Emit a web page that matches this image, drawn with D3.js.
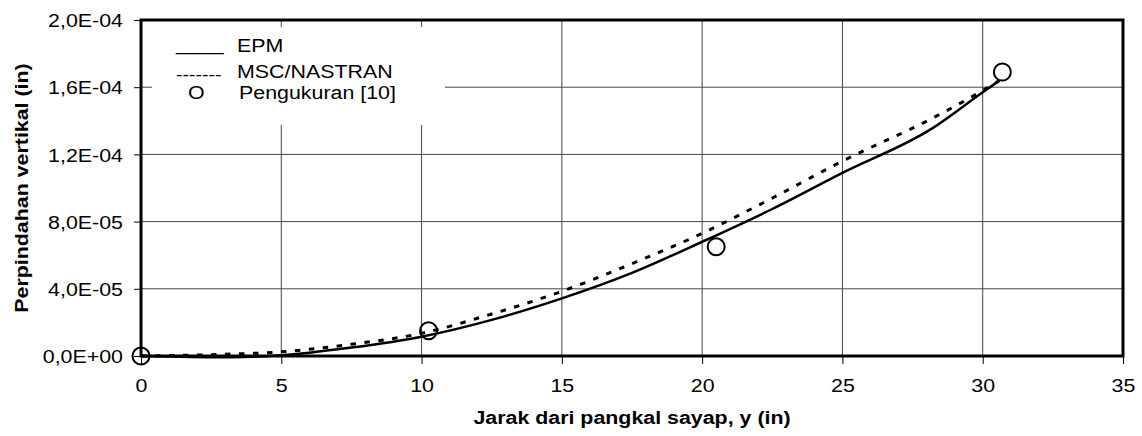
<html>
<head>
<meta charset="utf-8">
<script src="https://d3js.org/d3.v7.min.js"></script>
<style>
  body { margin: 0; background: #fff; }
  text { font-family: "Liberation Sans", Arial, sans-serif; fill: #000; }
</style>
</head>
<body>
<div id="chart"></div>
<script>
// x in inches, y in units of 1e-5 in
const epmX = [0, 1, 2.5, 4, 5, 6, 7.5, 10, 12.5, 15, 17.5, 20, 22.5, 25, 28.2, 30, 30.6]
const epmY = [0, -0.03, -0.07, -0.04, 0.05, 0.2, 0.5, 1.15, 2.15, 3.43, 4.95, 6.8, 8.75, 10.9, 13.55, 15.7, 16.4]
const nasX = [0, 2.5, 5, 7.5, 10, 12.5, 15, 17.5, 20, 22.5, 25, 28.2, 30, 30.6]
const nasY = [0, 0.08, 0.25, 0.7, 1.35, 2.5, 3.85, 5.5, 7.3, 9.4, 11.6, 14.15, 15.8, 16.4]
const measX = [0, 10.25, 20.5, 30.7]
const measY = [0, 1.5, 6.5, 16.9]
const xTicks = [0, 5, 10, 15, 20, 25, 30, 35]
const yTicks = [0, 4e-5, 8e-5, 1.2e-4, 1.6e-4, 2e-4]
const legendLabels = ['EPM', 'MSC/NASTRAN', 'Pengukuran [10]']
const legendSymbols = ['____', '-------', 'O']

const W = 1142, H = 436
const FS = 18.6, SX = 1.15
const svg = d3.select('#chart').append('svg').attr('width', W).attr('height', H)

const x = d3.scaleLinear().domain([0, 35]).range([141, 1123])
const y = d3.scaleLinear().domain([0, 2e-4]).range([356, 20])

const fmt = v => {
  if (v === 0) return '0,0E+00'
  const [m, e] = v.toExponential(1).split('e')
  const n = +e
  return m.replace('.', ',') + 'E' + (n < 0 ? '-' : '+') + String(Math.abs(n)).padStart(2, '0')
}

// gridlines
svg.append('g').selectAll('line.h').data(yTicks.slice(1, -1)).join('line')
  .attr('x1', x(0)).attr('x2', x(35)).attr('y1', d => y(d)).attr('y2', d => y(d))
  .attr('stroke', '#444').attr('stroke-width', 1)
svg.append('g').selectAll('line.v').data(xTicks.slice(1, -1)).join('line')
  .attr('x1', d => x(d)).attr('x2', d => x(d)).attr('y1', y(0)).attr('y2', y(2e-4))
  .attr('stroke', '#444').attr('stroke-width', 1)

// legend (white box hides grid)
svg.append('rect').attr('x', 152).attr('y', 27).attr('width', 293).attr('height', 98).attr('fill', '#fff')
const leg = svg.append('g').style('font-size', FS + 'px')
const legY = [51.7, 78, 99]
const symY = [50, 80, 99]
const symX = [176, 176, 188]
legendLabels.forEach((t, i) => {
  leg.append('text').attr('transform', `translate(${i === 2 ? 239 : 237},${legY[i]}) scale(${SX},1)`).text(t)
  leg.append('text').attr('transform', `translate(${symX[i]},${symY[i]}) scale(${SX},1)`)
    .style('font-size', (i === 1 ? 17 : FS) + 'px').text(legendSymbols[i])
})

// axes
const yAxis = svg.append('g').attr('transform', `translate(${x(0)},0)`)
  .call(d3.axisLeft(y).tickValues(yTicks).tickSize(7).tickFormat(fmt))
yAxis.select('.domain').remove()
yAxis.selectAll('.tick line').attr('stroke', '#000')
yAxis.selectAll('.tick text').attr('x', null).attr('dy', null)
  .attr('transform', `translate(-18,6.6) scale(${SX},1)`)
  .style('font-size', FS + 'px').attr('font-family', null)

const xAxis = svg.append('g').attr('transform', `translate(0,${y(0)})`)
  .call(d3.axisBottom(x).tickValues(xTicks).tickSize(8).tickFormat(d3.format('d')))
xAxis.select('.domain').remove()
xAxis.selectAll('.tick line').attr('stroke', '#000')
xAxis.selectAll('.tick text').attr('y', null).attr('dy', null)
  .attr('transform', `translate(0,36) scale(${SX},1)`)
  .style('font-size', FS + 'px').attr('font-family', null)

// series
const line = d3.line().x(d => x(d[0])).y(d => y(d[1] * 1e-5)).curve(d3.curveMonotoneX)
svg.append('path').datum(nasX.map((v, i) => [v, nasY[i]]))
  .attr('d', line).attr('fill', 'none').attr('stroke', '#000')
  .attr('stroke-width', 3).attr('stroke-dasharray', '5.5,8.5')
svg.append('path').datum(epmX.map((v, i) => [v, epmY[i]]))
  .attr('d', line).attr('fill', 'none').attr('stroke', '#000').attr('stroke-width', 2.5)
svg.append('g').selectAll('circle').data(measX.map((v, i) => [v, measY[i]])).join('circle')
  .attr('cx', d => x(d[0])).attr('cy', d => y(d[1] * 1e-5)).attr('r', 8.5)
  .attr('fill', 'none').attr('stroke', '#000').attr('stroke-width', 2)

// frame
svg.append('rect').attr('x', x(0)).attr('y', y(2e-4))
  .attr('width', x(35) - x(0)).attr('height', y(0) - y(2e-4))
  .attr('fill', 'none').attr('stroke', '#000').attr('stroke-width', 3)

// titles
svg.append('text').attr('text-anchor', 'middle').style('font-weight', 'bold').style('font-size', FS + 'px')
  .attr('transform', `translate(${(x(0) + x(35)) / 2},424) scale(${SX},1)`)
  .text('Jarak dari pangkal sayap, y (in)')
svg.append('text').attr('text-anchor', 'middle').style('font-weight', 'bold').style('font-size', FS + 'px')
  .attr('transform', `translate(28,${(y(0) + y(2e-4)) / 2}) rotate(-90) scale(${SX},1)`)
  .text('Perpindahan vertikal (in)')
</script>
</body>
</html>
